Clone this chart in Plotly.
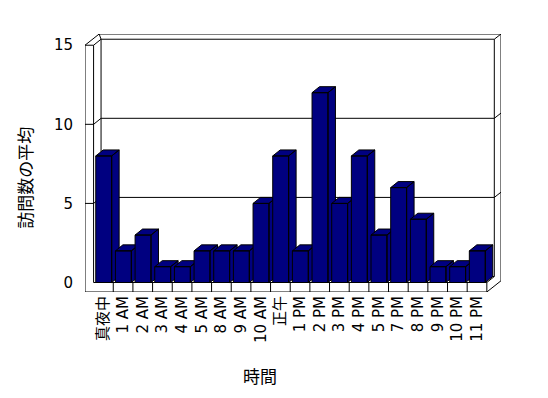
import plotly.graph_objects as go

# ---- data ----
categories = ["真夜中", "1 AM", "2 AM", "3 AM", "4 AM", "5 AM", "8 AM", "9 AM", "10 AM", "正午",
              "1 PM", "2 PM", "3 PM", "4 PM", "5 PM", "7 PM", "8 PM", "9 PM", "10 PM", "11 PM"]
visits = [8, 2, 3, 1, 1, 2, 2, 2, 5, 8, 2, 12, 5, 8, 3, 6, 4, 1, 1, 2]
y_ticks = [0, 5, 10, 15]
y_tick_text = ["0", "5", "10", "15"]
grid_values = [5, 10]
y_max = 15
x_title = "時間"
y_title = "訪問数の平均"

# ---- 3D-look geometry (data units) ----
DX, DY = 0.38, 0.38      # depth of walls / bars
TX = 0.437               # left wall thickness
TF = 0.6                 # floor thickness
TBX, TBY = 0.34, 0.33    # back wall thickness
BL, BR = 0.39, 0.42      # bar front extents around category centre

n = len(categories)
xl, xr = -0.5, n - 0.5

NAVY = "#000080"
LINE = dict(color="black", width=1)

fig = go.Figure()

# frame / walls / floor
xs, ys = [], []
def seg(points):
    for px, py in points:
        xs.append(px)
        ys.append(py)
    xs.append(None)
    ys.append(None)

top_b = y_max + DY
top_o = y_max + DY + TBY
seg([(xl - TX, y_max), (xl - TX, -TF), (xr, -TF), (xr, 0), (xl, 0), (xl, y_max), (xl - TX, y_max)])
seg([(xl - TX, y_max), (xl - TX + DX + TBX, top_o), (xr + DX + TBX, top_o),
     (xr + DX + TBX, -TF + DY + TBY), (xr, -TF)])
seg([(xl, y_max), (xl + DX, top_b), (xr + DX, top_b), (xr + DX + TBX, top_o)])
seg([(xl + DX, top_b), (xl - TX + DX + TBX, top_o)])
seg([(xl + DX, top_b), (xl + DX, DY), (xr + DX, DY), (xr + DX, top_b)])
seg([(xr + DX, DY), (xr, 0)])
for v in grid_values:
    seg([(xl - TX, v), (xl, v), (xl + DX, v + DY), (xr + DX, v + DY), (xr + DX + TBX, v + DY + TBY)])
for k in range(1, n):
    seg([(k - 0.5, 0), (k - 0.5, -TF)])

fig.add_trace(go.Scatter(x=xs, y=ys, mode="lines", line=LINE, hoverinfo="skip", showlegend=False))

# bars (front, side, top faces)
for i, v in enumerate(visits):
    a, b = i - BL, i + BR
    front = [(a, 0), (b, 0), (b, v), (a, v), (a, 0)]
    side = [(b, 0), (b + DX, DY), (b + DX, v + DY), (b, v), (b, 0)]
    top = [(a, v), (b, v), (b + DX, v + DY), (a + DX, v + DY), (a, v)]
    bx, by = [], []
    for poly in (front, side, top):
        for px, py in poly:
            bx.append(px)
            by.append(py)
        bx.append(None)
        by.append(None)
    fig.add_trace(go.Scatter(x=bx, y=by, mode="lines", fill="toself", fillcolor=NAVY,
                             line=LINE, hoverinfo="skip", showlegend=False))

TICKFONT = dict(family="DejaVu Sans, Noto Sans CJK JP", size=15, color="black")
TITLEFONT = dict(family="Noto Sans CJK JP", size=17, color="black")

fig.update_layout(
    width=548, height=398,
    margin=dict(l=85, r=47, t=34, b=106),
    paper_bgcolor="white", plot_bgcolor="white",
    xaxis=dict(range=[xl - TX, xr + DX + TBX], tickmode="array", tickvals=list(range(n)),
               ticktext=categories, tickangle=-90, showgrid=False, zeroline=False,
               showline=False, ticks="", tickfont=TICKFONT, fixedrange=True),
    yaxis=dict(range=[-TF, y_max + DY + TBY], tickmode="array", tickvals=y_ticks,
               ticktext=y_tick_text, showgrid=False, zeroline=False, showline=False,
               ticks="", tickfont=TICKFONT, ticklabelstandoff=11, fixedrange=True),
    annotations=[
        dict(text=x_title, xref="paper", yref="paper", x=0.42, y=-0.322,
             showarrow=False, font=TITLEFONT, xanchor="center", yanchor="middle"),
        dict(text=y_title, xref="paper", yref="paper", x=-0.145, y=0.442, textangle=-90,
             showarrow=False, font=TITLEFONT, xanchor="center", yanchor="middle"),
    ],
)

fig.write_html("out.html")
